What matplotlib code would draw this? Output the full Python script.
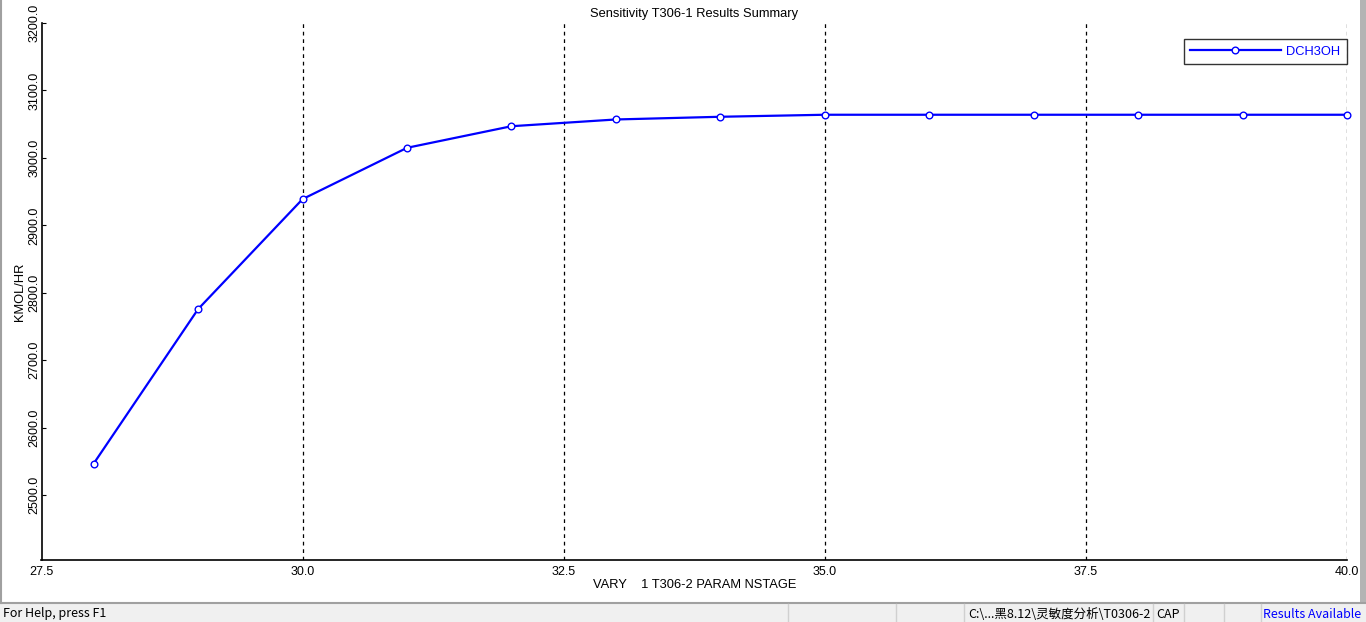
import matplotlib
matplotlib.use("Agg")
import matplotlib.pyplot as plt
from matplotlib.patches import Rectangle
from matplotlib.lines import Line2D

# values
nstage = [28, 29, 30, 31, 32, 33, 34, 35, 36, 37, 38, 39, 40]
dch3oh = [2547, 2776, 2939, 3015, 3047, 3057, 3061, 3064, 3064, 3064, 3064, 3064, 3064]
x_ticks = [27.5, 30.0, 32.5, 35.0, 37.5, 40.0]
y_ticks = [2500, 2600, 2700, 2800, 2900, 3000, 3100, 3200]
status_texts = ["For Help, press F1", "C:\\...黑8.12\\灵敏度分析\\T0306-2", "CAP", "Results Available"]

W, H = 1366, 622
BLUE = "#0000ff"

plt.rcParams["font.family"] = ["Liberation Sans", "DejaVu Sans"]

fig = plt.figure(figsize=(W / 100, H / 100), dpi=100)
fig.patch.set_facecolor("white")

ax = fig.add_axes([41.5 / W, 62 / H, 1305.5 / W, 537 / H])
ax.plot(nstage, dch3oh, color=BLUE, lw=1.6, marker="o", ms=4.8,
        mfc="white", mec=BLUE, mew=1.0, label="DCH3OH", zorder=5, clip_on=False)

ax.set_xlim(27.5, 40.0)
ax.set_ylim(2404, 3200)
ax.set_xticks(x_ticks)
ax.set_xticklabels([f"{v:.1f}" for v in x_ticks])
ax.set_yticks(y_ticks)
ax.set_yticklabels([f"{v:.1f}" for v in y_ticks], rotation=90, va="center")
ax.tick_params(axis="x", length=0, pad=4, labelsize=9)
ax.tick_params(axis="y", direction="in", length=3, pad=0.8, labelsize=9)
for s in ("top", "right"):
    ax.spines[s].set_visible(False)
for s in ("left", "bottom"):
    ax.spines[s].set_linewidth(1.2)
for xv in x_ticks[1:]:
    ax.axvline(xv, color="black", lw=0.9, ls=(0, (3, 3)), zorder=1)

ax.set_title("Sensitivity T306-1 Results Summary", fontsize=9.3, pad=4)
ax.set_xlabel("VARY    1 T306-2 PARAM NSTAGE", fontsize=9.3, labelpad=1)
ax.set_ylabel("KMOL/HR", fontsize=9.3, labelpad=1.5)

leg = ax.legend(loc="upper right", bbox_to_anchor=(1.0, 0.97), fontsize=9.3,
                frameon=True, fancybox=False, handlelength=7.0, borderpad=0.5,
                handletextpad=0.45, borderaxespad=0)
leg.get_frame().set_edgecolor("black")
leg.get_frame().set_linewidth(1.0)
for t in leg.get_texts():
    t.set_color(BLUE)

# window frame and status bar
fig.patches.append(Rectangle((0, 0), 1, 19 / H, transform=fig.transFigure,
                             facecolor="#f0f0f0", edgecolor="none", zorder=0))
fig.add_artist(Line2D([0, 1], [19 / H, 19 / H], transform=fig.transFigure,
                      color="#a0a0a0", lw=1.5))
fig.add_artist(Line2D([1 / W, 1 / W], [19 / H, 1], transform=fig.transFigure,
                      color="#a0a0a0", lw=1.5))
fig.patches.append(Rectangle((1360 / W, 19 / H), 6 / W, 1, transform=fig.transFigure,
                             facecolor="#b4b4b4", edgecolor="none"))
for sx in [788, 896, 964, 1153, 1184, 1224, 1261]:
    fig.add_artist(Line2D([sx / W, sx / W], [0, 18 / H], transform=fig.transFigure,
                          color="#d0d0d0", lw=1))

ty = 8 / H
fam = ["Noto Sans CJK SC", "DejaVu Sans"]
fig.text(3 / W, ty, status_texts[0], fontsize=9, va="center", family=fam)
fig.text(968 / W, ty, status_texts[1], fontsize=9, va="center", family=fam)
fig.text(1156 / W, ty, status_texts[2], fontsize=9, va="center", family=fam)
fig.text(1263 / W, ty, status_texts[3], fontsize=9, va="center", color=BLUE, family=fam)

fig.savefig("out.png", dpi=100)
